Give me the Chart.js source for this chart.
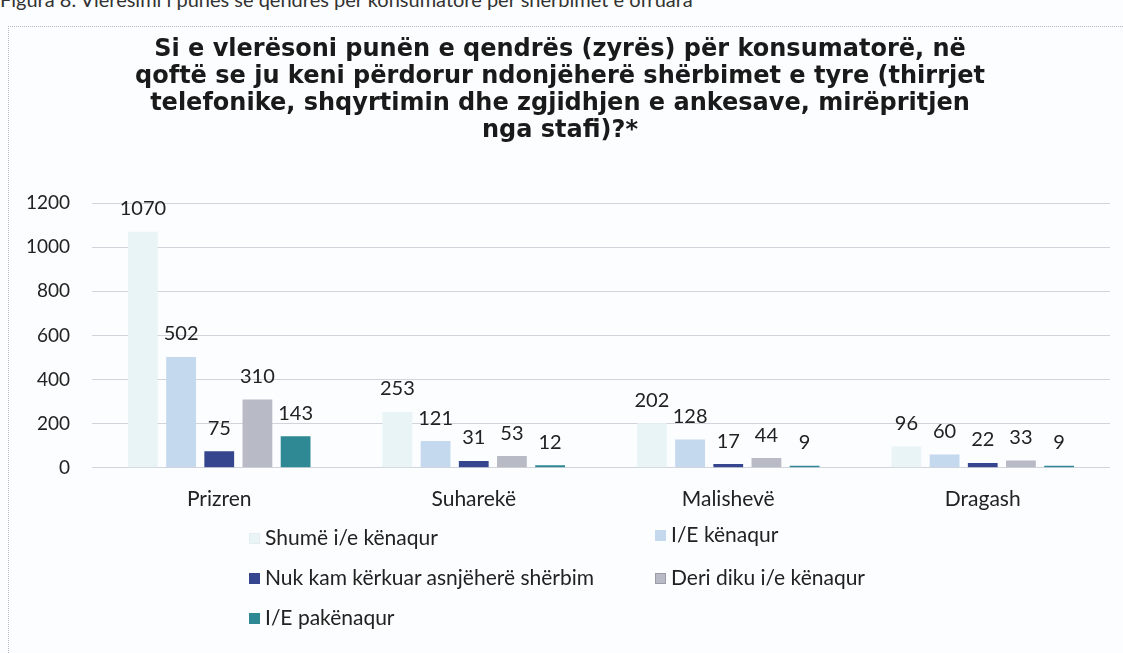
<!DOCTYPE html>
<html>
<head>
<meta charset="utf-8">
<script src="https://cdn.jsdelivr.net/npm/chart.js@4"></script>
<style>
  html, body { margin: 0; padding: 0; background: #fcfdfe; }
  body { width: 1123px; height: 653px; position: relative; overflow: hidden; font-family: Lato, "Open Sans", sans-serif; }
  #caption { position: absolute; left: 0; top: -13px; font-size: 20px; color: #333; white-space: nowrap; }
  #frame { position: absolute; left: 8px; top: 26px; width: 1130px; height: 650px; border-left: 1px dotted #b5b8bf; border-top: 1px dotted #b5b8bf; }
  #c { position: absolute; left: 0; top: 0; }
  #legend { position: absolute; left: 0; top: 0; width: 1123px; height: 653px; pointer-events: none; }
  .li { position: absolute; font-size: 21px; color: #222; white-space: nowrap; line-height: 22px; }
  .mk { display: inline-block; width: 11px; height: 11px; margin-right: 5px; vertical-align: 1px; box-sizing: border-box; }
</style>
</head>
<body>
<div id="caption">Figura 8. Vlerësimi i punës së qendrës për konsumatorë për shërbimet e ofruara</div>
<div id="frame"></div>
<canvas id="c" width="1123" height="542"></canvas>
<div id="legend"></div>
<script>
const titleLines = [
  "Si e vlerësoni punën e qendrës (zyrës) për konsumatorë, në",
  "qoftë se ju keni përdorur ndonjëherë shërbimet e tyre (thirrjet",
  "telefonike, shqyrtimin dhe zgjidhjen e ankesave, mirëpritjen",
  "nga stafi)?*"
];
const categories = ["Prizren", "Suharekë", "Malishevë", "Dragash"];
const seriesNames = ["Shumë i/e kënaqur", "I/E kënaqur", "Nuk kam kërkuar asnjëherë shërbim", "Deri diku i/e kënaqur", "I/E pakënaqur"];
const shumeKenaqur = [1070, 253, 202, 96];
const kenaqur = [502, 121, 128, 60];
const nukKamKerkuar = [75, 31, 17, 22];
const deriDiku = [310, 53, 44, 33];
const pakenaqur = [143, 12, 9, 9];
const yTicks = [0, 200, 400, 600, 800, 1000, 1200];

const seriesValues = [shumeKenaqur, kenaqur, nukKamKerkuar, deriDiku, pakenaqur];
const colors = ["#e9f4f6", "#c4d8ee", "#36468e", "#b8bac6", "#2e8995"];
const markerBorders = ["#e4eef2", "#c4d8ee", "#36468e", "#9a9ca8", "#2e8995"];

const valueLabels = {
  id: "valueLabels",
  afterDatasetsDraw(chart) {
    const ctx = chart.ctx;
    ctx.save();
    ctx.font = "20px Lato, 'Open Sans', sans-serif";
    ctx.fillStyle = "#222";
    ctx.textAlign = "center";
    ctx.textBaseline = "middle";
    chart.data.datasets.forEach((ds, i) => {
      const meta = chart.getDatasetMeta(i);
      meta.data.forEach((el, j) => {
        ctx.fillText(String(ds.data[j]), el.x, el.y - 23);
      });
    });
    ctx.restore();
  }
};

const chart = new Chart(document.getElementById("c"), {
  type: "bar",
  data: {
    labels: categories,
    datasets: seriesNames.map((n, i) => ({
      label: n,
      data: seriesValues[i],
      backgroundColor: colors[i],
      borderWidth: 0,
      categoryPercentage: 0.75,
      barPercentage: 0.78
    }))
  },
  options: {
    responsive: false,
    animation: false,
    layout: { padding: { left: 10, right: 13, top: 0, bottom: 11 } },
    plugins: {
      legend: { display: false },
      tooltip: { enabled: false },
      title: {
        display: true,
        text: titleLines,
        color: "#1a1a1a",
        font: { family: "'DejaVu Sans', sans-serif", size: 24, weight: "bold", lineHeight: 1.125 },
        padding: { top: 36, bottom: 59 }
      }
    },
    scales: {
      x: {
        grid: { display: false, drawTicks: false },
        border: { display: false },
        ticks: { color: "#222", font: { family: "Lato, 'Open Sans', sans-serif", size: 21 }, padding: 19 }
      },
      y: {
        min: 0,
        max: 1200,
        afterFit(s) { s.width = 82; },
        afterBuildTicks(s) { s.ticks = yTicks.map(v => ({ value: v })); },
        grid: { color: "#d2d4dc", lineWidth: 1, drawTicks: false },
        border: { display: false },
        ticks: { color: "#222", font: { family: "Lato, 'Open Sans', sans-serif", size: 19 }, padding: 22, callback: v => String(v) }
      }
    }
  },
  plugins: [valueLabels]
});

// Legend built from the chart's datasets (two columns)
const legendPos = [[249, 526], [655, 523], [249, 566], [655, 566], [249, 606]];
const legend = document.getElementById("legend");
chart.data.datasets.forEach((ds, i) => {
  const d = document.createElement("div");
  d.className = "li";
  d.style.left = legendPos[i][0] + "px";
  d.style.top = legendPos[i][1] + "px";
  const m = document.createElement("span");
  m.className = "mk";
  m.style.background = ds.backgroundColor;
  m.style.border = "1px solid " + markerBorders[i];
  d.appendChild(m);
  d.appendChild(document.createTextNode(ds.label));
  legend.appendChild(d);
});
</script>
</body>
</html>
